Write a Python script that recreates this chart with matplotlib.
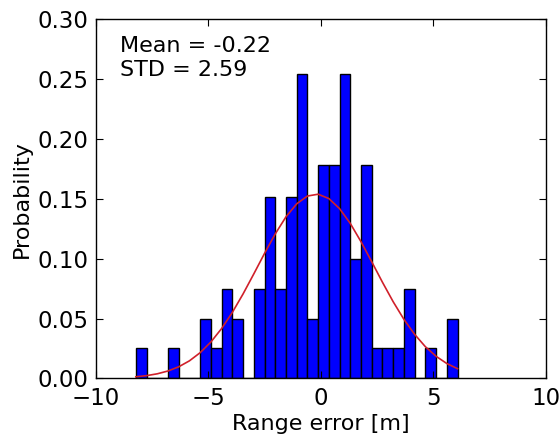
import numpy as np
import matplotlib
matplotlib.use("Agg")
import matplotlib.pyplot as plt

# --- Histogram data ---
bin_lo = -8.22
bin_hi = 6.07
n_bins = 30
probability = [0.025, 0.0, 0.0, 0.025, 0.0, 0.0, 0.05, 0.025, 0.075, 0.05,
               0.0, 0.075, 0.152, 0.075, 0.152, 0.254, 0.05, 0.178, 0.178, 0.254,
               0.10, 0.178, 0.025, 0.025, 0.025, 0.075, 0.0, 0.025, 0.0, 0.05]
mu = -0.22
sigma = 2.59

edges = np.linspace(bin_lo, bin_hi, n_bins + 1)
# Gaussian fit evaluated at the bin edges
fit = np.exp(-0.5 * ((edges - mu) / sigma) ** 2) / (sigma * np.sqrt(2 * np.pi))

fig = plt.figure(figsize=(5.6, 4.42), dpi=100)
ax = fig.add_axes([0.171, 0.144, 0.804, 0.812])

ax.bar(edges[:-1], probability, width=np.diff(edges), align="edge",
       color="#0000ff", edgecolor="black", linewidth=1.0)
ax.plot(edges, fit, color="#d0202a", linewidth=1.2)

ax.set_xlim(-10, 10)
ax.set_ylim(0, 0.30)
ax.set_xticks([-10, -5, 0, 5, 10])
ax.set_yticks(np.arange(0, 0.301, 0.05))
ax.set_yticklabels(["%.2f" % v for v in np.arange(0, 0.301, 0.05)])
ax.tick_params(direction="in", top=True, right=True, length=5, width=0.8,
               labelsize=16.5)
ax.tick_params(axis="x", pad=6)
ax.tick_params(axis="y", pad=5)
for s in ax.spines.values():
    s.set_linewidth(1.0)

ax.set_xlabel("Range error [m]", fontsize=16, labelpad=3)
ax.set_ylabel("Probability", fontsize=16, labelpad=4)

ax.text(0.053, 0.955, "Mean = %.2f\nSTD = %.2f" % (mu, sigma),
        transform=ax.transAxes, ha="left", va="top", fontsize=16,
        linespacing=1.25)

fig.savefig("out.png", dpi=100)
